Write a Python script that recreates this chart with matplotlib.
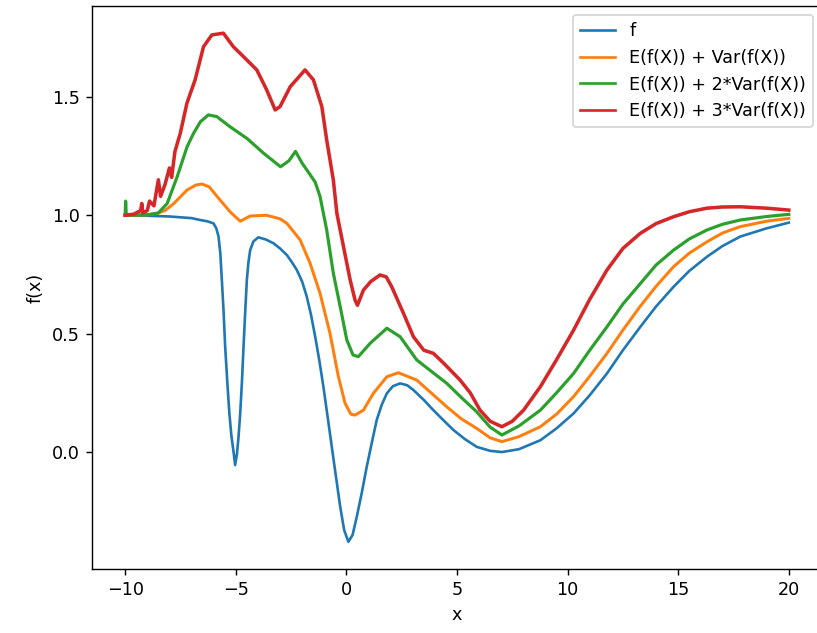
import matplotlib
matplotlib.use("Agg")
import matplotlib.pyplot as plt

# f (blue)
x_f = [-10.0, -9.0, -8.0, -7.0, -6.61, -6.3, -6.01, -5.88, -5.78, -5.7, -5.63, -5.55, -5.48, -5.38,
       -5.29, -5.2, -5.1, -5.03, -4.95, -4.88, -4.80, -4.72, -4.65, -4.57, -4.50, -4.43, -4.35, -4.2,
       -3.98, -3.65, -3.30, -3.0, -2.69, -2.45, -2.24, -2.0, -1.79, -1.6, -1.41, -1.22, -1.04, -0.85,
       -0.66, -0.47, -0.28, -0.1, 0.09, 0.28, 0.47, 0.7, 0.92, 1.15, 1.37, 1.6, 1.83, 2.1, 2.43, 2.75,
       3.03, 3.5, 3.93, 4.4, 4.84, 5.35, 5.89, 6.5, 7.03, 7.8, 8.77, 9.5, 10.27, 11.0, 11.78, 12.5,
       13.29, 14.0, 14.79, 15.5, 16.3, 17.0, 17.8, 19.0, 20.0]
y_f = [1.0, 0.998, 0.995, 0.988, 0.98, 0.975, 0.966, 0.945, 0.91, 0.84, 0.727, 0.59, 0.445, 0.29,
       0.163, 0.07, 0.0, -0.055, -0.01, 0.06, 0.163, 0.30, 0.445, 0.6, 0.727, 0.80, 0.853, 0.89,
       0.907, 0.898, 0.882, 0.86, 0.832, 0.80, 0.769, 0.72, 0.656, 0.58, 0.487, 0.385, 0.276, 0.15,
       0.022, -0.105, -0.231, -0.33, -0.379, -0.35, -0.273, -0.17, -0.062, 0.04, 0.135, 0.20, 0.248, 0.278, 0.290, 0.282,
       0.262, 0.22, 0.177, 0.133, 0.093, 0.055, 0.022, 0.005, 0.0, 0.012, 0.05, 0.10, 0.163, 0.24, 0.332, 0.43,
       0.529, 0.615, 0.698, 0.765, 0.825, 0.87, 0.91, 0.945, 0.969]

# E(f(X)) + Var(f(X)) (orange)
x_o = [-10.0, -9.0, -8.56, -8.2, -7.8, -7.2, -6.8, -6.52, -6.2, -5.85, -5.26, -4.8, -4.35, -3.6,
       -3.0, -2.69, -2.09, -1.64, -1.19, -0.74, -0.36, -0.06, 0.2, 0.39, 0.77, 1.22, 1.83, 2.35, 3.18,
       4.54, 5.2, 5.89, 6.5, 7.03, 7.8, 8.77, 9.5, 10.27, 11.0, 11.78, 12.5, 13.27, 14.0, 14.79, 15.5,
       16.3, 17.0, 17.8, 19.0, 20.0]
y_o = [1.0, 1.002, 1.008, 1.02, 1.05, 1.107, 1.128, 1.132, 1.12, 1.08, 1.015, 0.975, 0.997, 1.0,
       0.985, 0.966, 0.896, 0.797, 0.670, 0.501, 0.318, 0.206, 0.16, 0.156, 0.177, 0.248, 0.318, 0.335, 0.304,
       0.191, 0.14, 0.10, 0.06, 0.044, 0.065, 0.107, 0.16, 0.234, 0.32, 0.417, 0.515, 0.614, 0.70, 0.783, 0.84,
       0.888, 0.925, 0.952, 0.975, 0.987]

# E(f(X)) + 2*Var(f(X)) (green)
x_g = [-10.0, -9.98, -9.95, -9.9, -9.0, -8.5, -8.1, -7.65, -7.2, -6.91, -6.6, -6.24, -5.86, -5.26,
       -4.5, -3.74, -2.98, -2.6, -2.3, -2.0, -1.63, -1.41, -1.19, -0.89, -0.59, -0.28, 0.02, 0.3, 0.54,
       1.07, 1.83, 2.43, 3.18, 4.54, 5.2, 5.89, 6.5, 7.03, 7.8, 8.77, 9.5, 10.27, 11.0, 11.78, 12.5,
       13.29, 14.0, 14.79, 15.5, 16.3, 17.0, 17.8, 19.0, 20.0]
y_g = [1.0, 1.06, 1.0, 1.0, 1.002, 1.01, 1.05, 1.163, 1.29, 1.346, 1.395, 1.424, 1.417, 1.374,
       1.325, 1.262, 1.205, 1.23, 1.27, 1.22, 1.17, 1.14, 1.079, 0.938, 0.755, 0.614, 0.473, 0.41, 0.403,
       0.459, 0.523, 0.487, 0.389, 0.29, 0.23, 0.17, 0.105, 0.072, 0.11, 0.177, 0.25, 0.332, 0.43, 0.529, 0.625,
       0.712, 0.79, 0.853, 0.90, 0.938, 0.962, 0.98, 0.995, 1.004]

# E(f(X)) + 3*Var(f(X)) (red)
x_r = [-10.0, -9.6, -9.3, -9.25, -9.2, -9.0, -8.9, -8.7, -8.5, -8.4, -8.2, -8.0, -7.9, -7.75,
       -7.51, -7.21, -6.84, -6.46, -6.08, -5.56, -5.11, -4.65, -4.05, -3.60, -3.22, -3.0, -2.54, -1.87,
       -1.49, -1.11, -0.89, -0.59, -0.43, -0.13, 0.17, 0.39, 0.5, 0.77, 1.1, 1.52, 1.8, 2.05, 2.58,
       3.03, 3.5, 3.93, 4.4, 5.14, 5.6, 6.04, 6.5, 7.03, 7.5, 8.01, 8.77, 9.5, 10.27, 11.0, 11.78, 12.5,
       13.29, 14.0, 14.79, 15.5, 16.3, 17.0, 17.8, 19.0, 20.0]
y_r = [1.0, 1.005, 1.02, 1.05, 1.01, 1.02, 1.06, 1.04, 1.15, 1.08, 1.13, 1.2, 1.16, 1.27,
       1.346, 1.473, 1.572, 1.712, 1.762, 1.769, 1.712, 1.670, 1.614, 1.529, 1.445, 1.459, 1.543, 1.614,
       1.572, 1.459, 1.318, 1.149, 1.008, 0.867, 0.727, 0.642, 0.62, 0.684, 0.72, 0.748, 0.74, 0.698, 0.586,
       0.487, 0.43, 0.417, 0.375, 0.304, 0.25, 0.177, 0.13, 0.107, 0.13, 0.177, 0.276, 0.39, 0.515, 0.645, 0.769, 0.86,
       0.924, 0.965, 0.994, 1.015, 1.03, 1.035, 1.036, 1.03, 1.022]

labels = ["f", "E(f(X)) + Var(f(X))", "E(f(X)) + 2*Var(f(X))", "E(f(X)) + 3*Var(f(X))"]
x_ticks = [-10, -5, 0, 5, 10, 15, 20]
y_ticks = [0.0, 0.5, 1.0, 1.5]

dpi = 127
fig = plt.figure(figsize=(817 / dpi, 633 / dpi), dpi=dpi)
ax = fig.add_axes([92 / 817, 64 / 633, 730 / 817, 563 / 633])

ax.plot(x_f, y_f, color="#1f77b4", lw=1.5, label=labels[0])
ax.plot(x_o, y_o, color="#ff7f0e", lw=1.7, label=labels[1])
ax.plot(x_g, y_g, color="#2ca02c", lw=1.8, label=labels[2])
ax.plot(x_r, y_r, color="#d62728", lw=2.0, label=labels[3])

ax.set_xlim(-11.5, 21.5)
ax.set_ylim(-0.494, 1.884)
ax.set_xticks(x_ticks)
ax.set_yticks(y_ticks)
ax.set_xlabel("x")
ax.set_ylabel("f(x)")
leg = ax.legend(loc="upper right")
for line in leg.get_lines():
    line.set_linewidth(1.5)

fig.savefig("out.png", dpi=dpi)
